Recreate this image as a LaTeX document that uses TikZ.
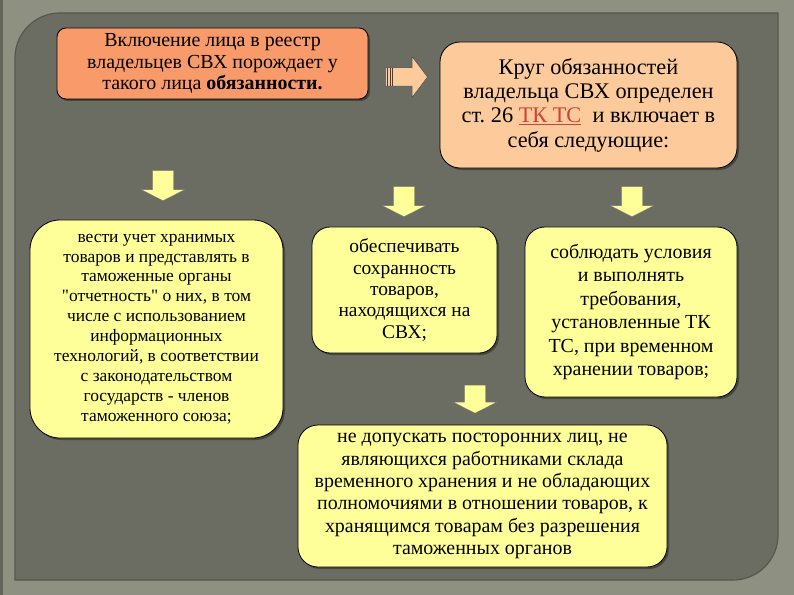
\documentclass[tikz,border=0pt]{standalone}
\usepackage{fontspec}
\setmainfont{Liberation Serif}
\frenchspacing
\usetikzlibrary{shapes,shadows,calc}
\definecolor{outerbg}{HTML}{8E9081}
\definecolor{panelbg}{HTML}{6B6D62}
\definecolor{salmon}{HTML}{F89A6A}
\definecolor{peach}{HTML}{FDCB9B}
\definecolor{paleyel}{HTML}{FFFF99}
\definecolor{linkred}{HTML}{CC4438}
\tikzset{
  boxnode/.style = {align=center, inner sep=0pt, text centered, draw=black, line width=0.8bp,
    drop shadow={shadow xshift=2bp, shadow yshift=-2bp, fill=black, opacity=0.35}},
  box_o/.style = {boxnode, fill=salmon, rounded corners=9bp, font=\fontsize{20}{21.7}\selectfont},
  box_p/.style = {boxnode, fill=peach, rounded corners=20bp, font=\fontsize{22.4}{24.4}\selectfont},
  box_y/.style = {boxnode, fill=paleyel, rounded corners=20bp, font=\fontsize{20}{22.4}\selectfont},
  arr_d/.style = {single arrow, shape border rotate=270, fill=paleyel, draw=black!55, line width=0.4bp,
    text width=0pt, text height=0pt, text depth=0pt, inner sep=10.5bp, minimum height=30bp,
    single arrow head extend=11bp, single arrow tip angle=126},
  arr_r/.style = {single arrow, fill=peach, draw=black!70, line width=0.5bp,
    text width=0pt, text height=0pt, text depth=0pt, inner sep=9bp, minimum height=42bp,
    single arrow head extend=11bp, single arrow tip angle=106}
}

\begin{document}
\begin{tikzpicture}[x=1bp,y=-1bp]
  \useasboundingbox (0,0) rectangle (794,595);
  % background and panel
  \fill[outerbg] (0,0) rectangle (794,595);
  \fill[outerbg!70!black] (0,0) rectangle (3,595);
  \filldraw[fill=panelbg, draw=panelbg!80!black, line width=1.2bp]
    (15,580) -- (15,58) .. controls (15,33.1) and (35.1,13) .. (60,13)
    -- (778,13) -- (778,535) .. controls (778,559.9) and (757.9,580) .. (733,580) -- cycle;

  % top row
  \node[box_o, minimum width=311bp, minimum height=71bp] (reg) at (212.5,63.5)
    {Включение лица в реестр\\владельцев СВХ порождает у\\такого лица \textbf{обязанности.}};
  \node[arr_r] (toduty) at (403,77) {};
  \foreach \k in {2.5,5,7.5}
    \draw[black!75, line width=0.7bp] ([xshift=\k bp, yshift=9bp]toduty.tail) -- ([xshift=\k bp, yshift=-9bp]toduty.tail);
  \node[box_p, minimum width=297bp, minimum height=126bp] (duty) at (588.5,105)
    {Круг обязанностей\\владельца СВХ определен\\ст. 26 \textcolor{linkred}{\underline{ТК ТС}}\ \ и включает в\\себя следующие:};

  % arrows down
  \node[arr_d] (a1) at (163,183) {};
  \node[arr_d] (a2) at (404,199) {};
  \node[arr_d] (a3) at (632,199) {};
  \node[arr_d, minimum height=28bp] (a4) at (475,396.5) {};

  % duties
  \node[box_y, rounded corners=30bp, minimum width=253bp, minimum height=218bp,
    font=\fontsize{17.5}{20}\selectfont] (acct) at (156.5,329)
    {вести учет хранимых\\товаров и представлять в\\таможенные органы\\\textquotedbl отчетность\textquotedbl{} о них, в том\\числе с использованием\\информационных\\технологий, в соответствии\\с законодательством\\государств - членов\\таможенного союза;};
  \node[box_y, rounded corners=18bp, minimum width=185bp, minimum height=126bp,
    font=\fontsize{19.5}{21.5}\selectfont] (safe) at (404.5,290)
    {обеспечивать\\сохранность\\товаров,\\находящихся на\\СВХ;};
  \node[box_y, minimum width=212bp, minimum height=170bp,
    font=\fontsize{20}{23.5}\selectfont] (cond) at (631,312)
    {соблюдать условия\\и выполнять\\требования,\\установленные ТК\\ТС, при временном\\хранении товаров;};
  \node[box_y, minimum width=369bp, minimum height=142bp] (noacc) at (482.5,496)
    {не допускать посторонних лиц, не\\являющихся работниками склада\\временного хранения и не обладающих\\полномочиями в отношении товаров, к\\хранящимся товарам без разрешения\\таможенных органов};
\end{tikzpicture}
\end{document}
